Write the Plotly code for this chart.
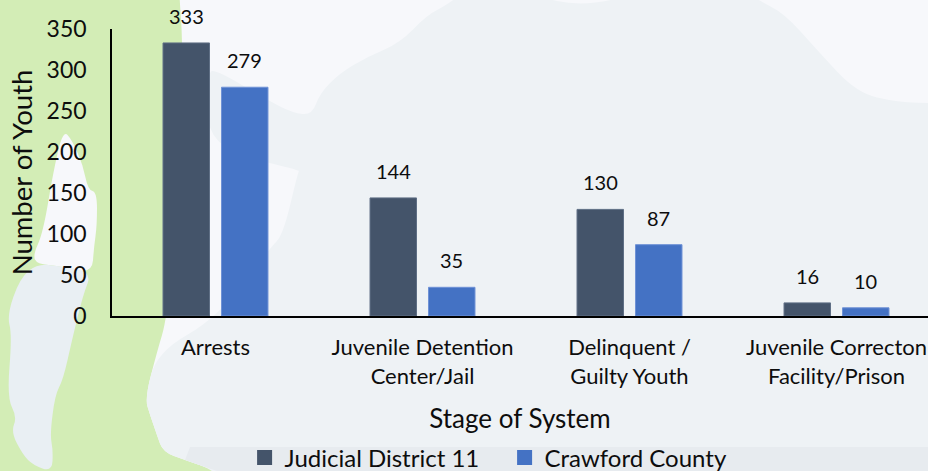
import plotly.graph_objects as go

# values
stages = ["Arrests", "Juvenile Detention<br>Center/Jail", "Delinquent /<br>Guilty Youth",
          "Juvenile Correcton<br>Facility/Prison"]
district = [333, 144, 130, 16]
crawford = [279, 35, 87, 10]
y_ticks = [0, 50, 100, 150, 200, 250, 300, 350]

DARK = "#44546A"
BLUE = "#4472C4"
FONT = "Lato"
TEXT = "#0d0d0d"

PLOT_L, PLOT_R, PLOT_T, PLOT_B = 112, 928, 29, 316


def to_paper(x, y):
    return (x - PLOT_L) / (PLOT_R - PLOT_L), (PLOT_B - y) / (PLOT_B - PLOT_T)


def region(points, smooth=True):
    # background blob outlined in page pixels, turned into a paper-referenced path
    pts = [to_paper(x, y) for x, y in points]
    if not smooth:
        return "M" + "L".join(f"{x:.4f},{y:.4f}" for x, y in pts) + "Z"
    n = len(pts)
    mids = [((pts[i][0] + pts[(i + 1) % n][0]) / 2, (pts[i][1] + pts[(i + 1) % n][1]) / 2) for i in range(n)]
    path = f"M{mids[-1][0]:.4f},{mids[-1][1]:.4f}"
    for i in range(n):
        path += f"Q{pts[i][0]:.4f},{pts[i][1]:.4f} {mids[i][0]:.4f},{mids[i][1]:.4f}"
    return path + "Z"


green = [(-200, -200), (178, -200), (178, -20), (183, 42), (180, 120), (175, 230), (167, 318), (157, 352),
         (145, 398), (150, 415), (157, 435), (163, 452), (185, 460), (217, 471), (260, 500), (-200, 700)]
gray = [(1100, 108), (928, 103), (897, 102), (857, 93), (817, 50), (784, 13), (757, 0), (720, -30), (650, -10),
        (584, 7), (530, -5), (480, -20), (447, 5), (427, 15), (400, 43), (367, 57), (340, 73), (320, 93),
        (312, 115), (293, 113), (267, 100), (217, 70), (207, 72), (207, 148), (300, 170), (298, 172), (283, 235),
        (270, 248), (217, 318), (157, 352), (145, 398), (150, 415), (157, 435), (163, 452), (185, 460),
        (217, 471), (260, 520), (1100, 520)]
band = [(190, 447), (928, 447), (928, 471), (217, 471), (185, 460)]
hole_light = [(63, 130), (72, 140), (83, 165), (88, 190), (97, 192), (97, 225), (94, 247), (92, 274),
              (60, 266), (37, 264), (33, 255), (43, 233), (53, 173)]
hole_gray = [(37, 264), (60, 266), (92, 272), (83, 295), (72, 340), (63, 380), (55, 395), (50, 435),
             (53, 450), (52, 472), (33, 465), (23, 455), (11, 432), (17, 417), (7, 398), (12, 335),
             (7, 315), (20, 278)]

shapes = []
for pts, col, smooth in [(green, "#D3EDB6", True), (gray, "#EEF2F5", True), (band, "#E7EBEF", False),
                         (hole_light, "#F7F8FB", True), (hole_gray, "#E9EFF3", True)]:
    shapes.append(dict(type="path", path=region(pts, smooth), xref="paper", yref="paper",
                       fillcolor=col, line=dict(width=0), layer="below"))

fig = go.Figure()
for name, values, color, edge in [("Judicial District 11", district, DARK, "#5F6F85"),
                                  ("Crawford County", crawford, BLUE, "#6F92D6")]:
    fig.add_trace(go.Bar(x=list(range(len(stages))), y=values, name=name, showlegend=False,
                         marker=dict(color=color, line=dict(width=1, color=edge))))
    # square swatch in the legend, larger than the one a bar trace gets
    fig.add_trace(go.Scatter(x=[None], y=[None], mode="markers", name=name,
                             marker=dict(symbol="square", size=15, color=color)))

labels = []
for i in range(len(stages)):
    for values, shift in [(district, -29.5), (crawford, 29)]:
        labels.append(dict(x=i, y=values[i], text=str(values[i]), xshift=shift, yshift=27, showarrow=False,
                           yanchor="middle", font=dict(size=20, color=TEXT, family=FONT)))

fig.update_layout(
    width=928,
    height=471,
    margin=dict(l=PLOT_L, r=928 - PLOT_R, t=PLOT_T, b=471 - PLOT_B),
    paper_bgcolor="#F7F8FB",
    plot_bgcolor="rgba(0,0,0,0)",
    font=dict(family=FONT, color=TEXT),
    barmode="group",
    bargap=0.435,
    bargroupgap=0.205,
    shapes=shapes,
    annotations=labels,
    showlegend=True,
    legend=dict(orientation="h", x=0.1625, xanchor="left", y=0.0276, yanchor="middle", yref="container",
                bgcolor="rgba(0,0,0,0)", font=dict(size=24, color=TEXT),
                entrywidth=215, entrywidthmode="pixels", itemclick=False),
    xaxis=dict(
        range=[-0.5, 3.442],
        tickmode="array",
        tickvals=list(range(len(stages))),
        ticktext=stages,
        tickfont=dict(size=22, color=TEXT),
        ticks="",
        ticklabelstandoff=11,
        showgrid=False,
        zeroline=False,
        showline=True,
        linecolor="black",
        linewidth=2,
        title=dict(text="Stage of System", font=dict(size=26, color=TEXT), standoff=22),
    ),
    yaxis=dict(
        range=[0, 350],
        tickmode="array",
        tickvals=y_ticks,
        tickfont=dict(size=23, color=TEXT),
        ticks="",
        ticklabelstandoff=19,
        showgrid=False,
        zeroline=False,
        showline=True,
        linecolor="black",
        linewidth=1.5,
        title=dict(text="Number of Youth", font=dict(size=27.5, color=TEXT), standoff=6),
    ),
)

# the page gets a default body margin otherwise, which pushes everything 8px in
fig.write_html("out.html", config=dict(displayModeBar=False),
               post_script="document.body.style.margin='0';document.body.style.overflow='hidden';")
